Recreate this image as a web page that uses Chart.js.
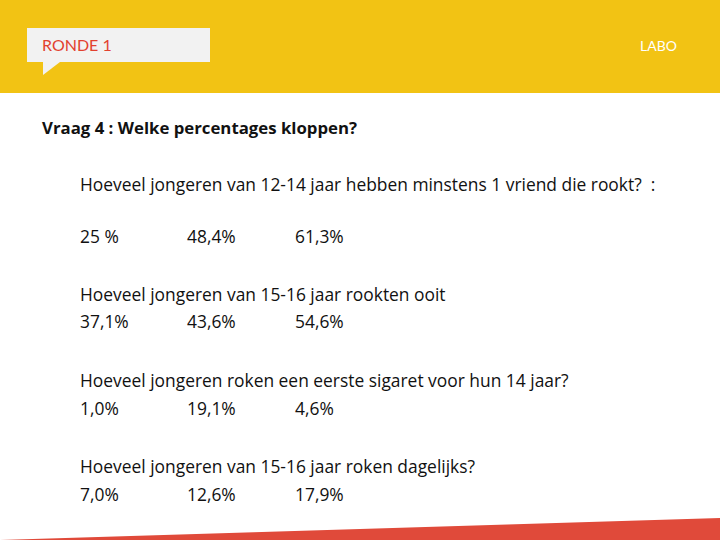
<!DOCTYPE html>
<html><head><meta charset="utf-8">
<script src="https://cdn.jsdelivr.net/npm/chart.js@4"></script>
<style>
body{margin:0;width:720px;height:540px;position:relative;overflow:hidden;font-family:"Open Sans",Lato,sans-serif;background:#fff}
#head{position:absolute;left:0;top:0;width:720px;height:93px;background:#F2C314}
#tab{position:absolute;left:27px;top:28px;width:183px;height:34px;background:#f2f2f2}
#tri{position:absolute;left:43px;top:62px;width:0;height:0;border-right:17px solid transparent;border-top:13px solid #f2f2f2}
#ronde{position:absolute;left:42px;top:35px;color:#E2412F;font-size:16px;font-family:Lato,sans-serif}
#labo{position:absolute;left:640px;top:37px;color:#fff;font-size:14px;font-family:Lato,sans-serif}
#title{position:absolute;left:42px;top:116px;font-weight:bold;font-size:16.8px;color:#111}
.t{position:absolute;font-size:17.4px;color:#111;white-space:pre}
#wedge{position:absolute;left:0;top:516px;width:720px;height:24px}
</style></head><body>
<div id="head"></div><div id="tab"></div><div id="tri"></div>
<div id="ronde">RONDE 1</div><div id="labo">LABO</div>
<div id="title">Vraag 4 : Welke percentages kloppen?</div>
<div id="content"></div>
<div id="wedge"><canvas id="c"></canvas></div>
<script>
const questions = [
  'Hoeveel jongeren van 12-14 jaar hebben minstens 1 vriend die rookt?  :',
  'Hoeveel jongeren van 15-16 jaar rookten ooit',
  'Hoeveel jongeren roken een eerste sigaret voor hun 14 jaar?',
  'Hoeveel jongeren van 15-16 jaar roken dagelijks?'
];
const answers = [
  ['25 %', '48,4%', '61,3%'],
  ['37,1%', '43,6%', '54,6%'],
  ['1,0%', '19,1%', '4,6%'],
  ['7,0%', '12,6%', '17,9%']
];
const qTops = [172, 282, 368, 454];
const aTops = [224, 309, 396, 482];
const cols = [80, 187, 295];
const box = document.getElementById('content');
questions.forEach((q, i) => {
  const d = document.createElement('div');
  d.className = 't'; d.style.left = '80px'; d.style.top = qTops[i] + 'px'; d.textContent = q;
  box.appendChild(d);
  answers[i].forEach((a, j) => {
    const e = document.createElement('div');
    e.className = 't'; e.style.left = cols[j] + 'px'; e.style.top = aTops[i] + 'px'; e.textContent = a;
    box.appendChild(e);
  });
});

// rode strook onderaan
const stripe = [0, 22];
new Chart(document.getElementById('c'), {
  type: 'line',
  data: {labels: ['a', 'b'], datasets: [{data: stripe, fill: 'origin', backgroundColor: '#E04A3A', borderWidth: 0, pointRadius: 0}]},
  options: {
    responsive: true, maintainAspectRatio: false, animation: false,
    layout: {padding: 0},
    plugins: {legend: {display: false}, tooltip: {enabled: false}},
    scales: {x: {display: false, offset: false}, y: {display: false, min: 0, max: 24}}
  }
});
</script>
</body></html>
